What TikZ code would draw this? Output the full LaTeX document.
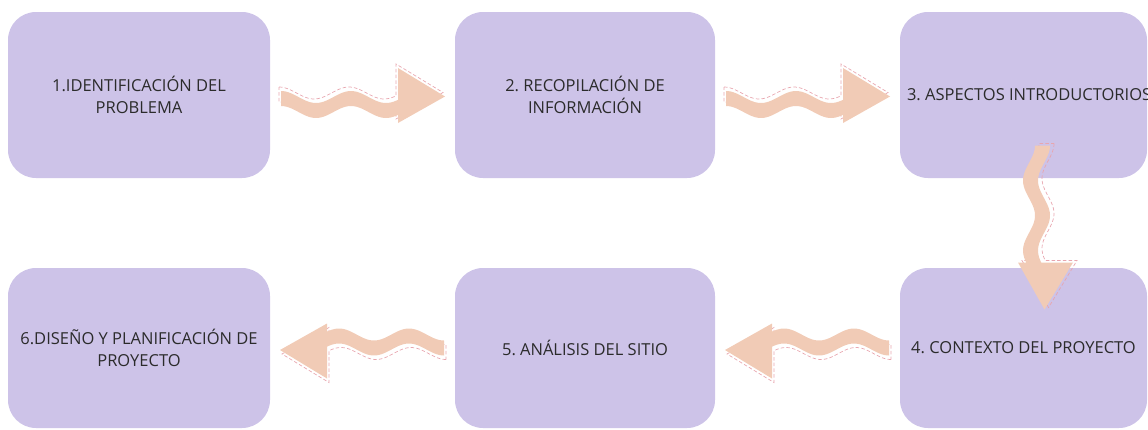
\documentclass[tikz,border=0pt]{standalone}
\usepackage{fontspec}
\setmainfont{Open Sans}
\usetikzlibrary{calc}
\frenchspacing

\definecolor{lila}{HTML}{CDC3E8}
\definecolor{melocoton}{HTML}{F1CBB6}
\definecolor{rosa}{HTML}{E8A6AF}
\definecolor{texto}{HTML}{2B2B2B}

\newcommand\ondapath{(-81.5,{wav(-81.5)-7.5}) -- plot[domain=-81.5:35.5,samples=50] (\x,{wav(\x)-7.5}) -- (35.5,-27) -- (82.5,1.5) -- (35.5,28) -- plot[domain=35.5:-81.5,samples=50] (\x,{wav(\x)+7.5}) -- cycle}

\tikzset{
  declare function={wav(\t)=9.5-6*cos(5.143*(\t+81.5));},
  caja/.style={fill=lila, rounded corners=28pt, minimum width=261pt, minimum height=166pt,
    inner sep=7pt, align=center, text=texto, font=\fontsize{16.5}{22}\selectfont},
  onda/.pic={
    \draw[rosa, line width=0.7pt, dash pattern=on 3.5pt off 2.2pt, shift={(-2,-4)}] \ondapath;
    \fill[melocoton] \ondapath;
  }
}

\begin{document}
\begin{tikzpicture}[x=1pt, y=-1pt]
            \useasboundingbox (0,0) rectangle (1148,429);

            \node[caja, minimum width=262pt] (s1) at (139,95) {1.IDENTIFICACIÓN DEL\\PROBLEMA};
            \node[caja, minimum width=260pt] (s2) at (585,95) {2. RECOPILACIÓN DE\\INFORMACIÓN};
            \node[caja, minimum width=247pt] (s3) at (1023.5,95) {\makebox[233pt][l]{3. ASPECTOS INTRODUCTORIOS}};

            \node[caja, minimum width=247pt, minimum height=160pt] (s4) at (1023.5,348) {4. CONTEXTO DEL PROYECTO};
            \node[caja, minimum width=260pt, minimum height=160pt] (s5) at (585,348) {5. ANÁLISIS DEL SITIO};
            \node[caja, minimum width=262pt, minimum height=160pt] (s6) at (139,348) {6.DISEÑO Y PLANIFICACIÓN DE\\PROYECTO};

            \pic at ($(s1.east)!0.5!(s2.west)$) {onda};
            \pic at ($(s2.east)!0.5!(s3.west)$) {onda};
            \pic[rotate=-90] at ($(s3.south)!0.5!(s4.north)+(22.5,4)$) {onda};
            \pic[rotate=180] at ($(s4.west)!0.5!(s5.east)+(0,3.5)$) {onda};
            \pic[rotate=180] at ($(s5.west)!0.5!(s6.east)+(0,3.5)$) {onda};

        \end{tikzpicture}
\end{document}
